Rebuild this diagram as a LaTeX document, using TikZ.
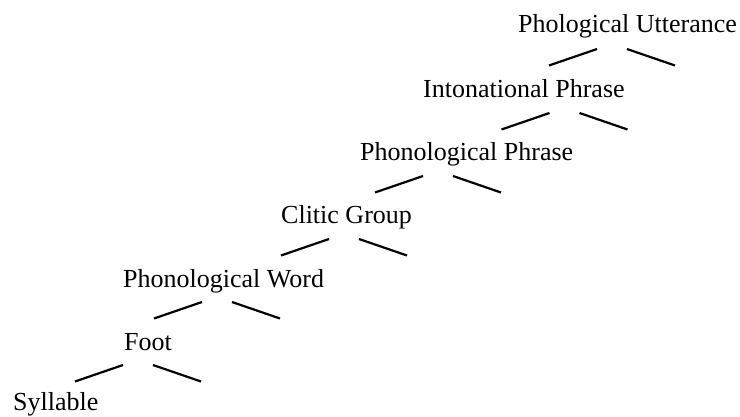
\documentclass[tikz,border=0pt]{standalone}
\usepackage{fontspec}
\setmainfont{Liberation Serif}
\tikzset{
    level/.style={anchor=base west, inner sep=0pt, font=\fontsize{26}{30}\selectfont},
    branch/.style={line width=2.2pt}
}
\begin{document}
\begin{tikzpicture}[x=1pt,y=-1pt]
        \useasboundingbox (0,0) rectangle (740,416);

        \node[level] (ut) at (518,32) {Phological Utterance};
        \node[level] (ip) at (423,97) {Intonational Phrase};
        \node[level] (pp) at (360,160) {Phonological Phrase};
        \node[level] (cg) at (281,223) {Clitic Group};
        \node[level] (pw) at (123,287) {Phonological Word};
        \node[level] (ft) at (124,350) {Foot};
        \node[level] (sy) at (13,410) {Syllable};

        \coordinate (ut-b) at (612,49);
        \coordinate (ip-b) at (564.5,113);
        \coordinate (pp-b) at (438,176);
        \coordinate (cg-b) at (344,239);
        \coordinate (pw-b) at (217,302);
        \coordinate (ft-b) at (138,365);

        \foreach \b in {ut-b,ip-b,pp-b,cg-b,pw-b,ft-b} {
            \draw[branch] (\b) ++(-15,0) -- ++(-48,16.5);
            \draw[branch] (\b) ++(15,0) -- ++(48,16.5);
        }
    \end{tikzpicture}
\end{document}
